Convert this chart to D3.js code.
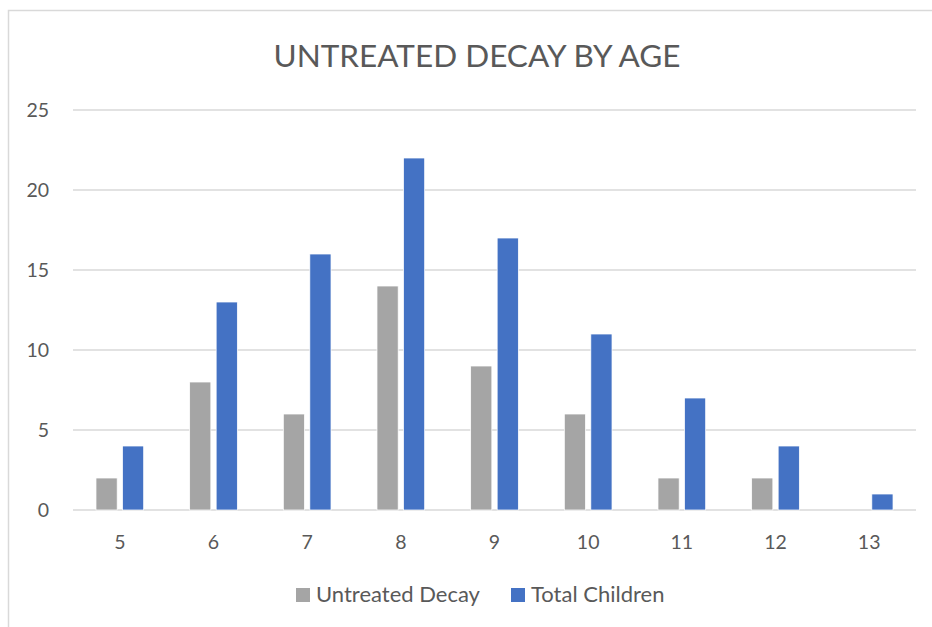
<!DOCTYPE html>
<html><head><meta charset="utf-8">
<script src="https://cdn.jsdelivr.net/npm/d3@7"></script>
<style>body{margin:0;background:#fff}svg{display:block}</style>
</head><body>
<svg id="c" width="932" height="627"></svg>
<script>
const categories = ["5","6","7","8","9","10","11","12","13"];
const seriesNames = ["Untreated Decay","Total Children"];
const untreated = [2,8,6,14,9,6,2,2,0];
const totalChildren = [4,13,16,22,17,11,7,4,1];
const yTicks = [0,5,10,15,20,25];
const title = "UNTREATED DECAY BY AGE";
const colors = ["#a5a5a5","#4472c4"];

(function(){
const svg = d3.select("#c");
const font = "Lato, 'Open Sans', sans-serif";
const textCol = "#595959";

// chart border
svg.append("rect").attr("x",8.5).attr("y",10.5).attr("width",940).attr("height",640)
  .attr("fill","none").attr("stroke","#d9d9d9").attr("stroke-width",1.5);

const pLeft=73, pRight=916, pTop=110, pBottom=510;
const x0 = d3.scaleBand().domain(categories).range([pLeft,pRight]).padding(0);
const groupW = 47.7;
const x1 = d3.scaleBand().domain(seriesNames).range([0,groupW]).paddingInner(0.2).paddingOuter(0);
const y = d3.scaleLinear().domain([0,25]).range([pBottom,pTop]);

// gridlines
svg.append("g").selectAll("line").data(yTicks).join("line")
  .attr("x1",pLeft).attr("x2",pRight).attr("y1",d=>y(d)).attr("y2",d=>y(d))
  .attr("stroke","#d9d9d9").attr("stroke-width",1.5);

// y labels
svg.append("g").selectAll("text").data(yTicks).join("text")
  .attr("x",49).attr("y",d=>y(d)).attr("dy","0.36em").attr("text-anchor","end")
  .attr("font-family",font).attr("font-size",19.5).attr("fill",textCol).text(d=>d);

// bars
const data = categories.map((c,i)=>({c, vals:[untreated[i], totalChildren[i]]}));
const g = svg.append("g");
data.forEach(d=>{
  const cx = x0(d.c) + x0.bandwidth()/2 - groupW/2;
  seriesNames.forEach((s,j)=>{
    const v = d.vals[j];
    if (v<=0) return;
    g.append("rect").attr("x",cx + x1(s)).attr("width",x1.bandwidth())
      .attr("y",y(v)).attr("height",y(0)-y(v)).attr("fill",colors[j])
      .attr("stroke","#fff").attr("stroke-width",0.75);
  });
});

// x labels
svg.append("g").selectAll("text").data(categories).join("text")
  .attr("x",d=>x0(d)+x0.bandwidth()/2).attr("y",548.5).attr("text-anchor","middle")
  .attr("font-family",font).attr("font-size",19.5).attr("fill",textCol).text(d=>d);

// title
svg.append("text").attr("x",477).attr("y",67).attr("text-anchor","middle")
  .attr("font-family",font).attr("font-size",31.5).attr("fill",textCol).text(title);

// legend
const leg = svg.append("g");
const legX = [296, 511];
seriesNames.forEach((s,j)=>{
  leg.append("rect").attr("x",legX[j]).attr("y",588).attr("width",14).attr("height",14).attr("fill",colors[j]);
  leg.append("text").attr("x",legX[j]+20).attr("y",602).attr("font-family",font).attr("font-size",22)
    .attr("fill",textCol).text(s);
});
})();
</script>
</body></html>
